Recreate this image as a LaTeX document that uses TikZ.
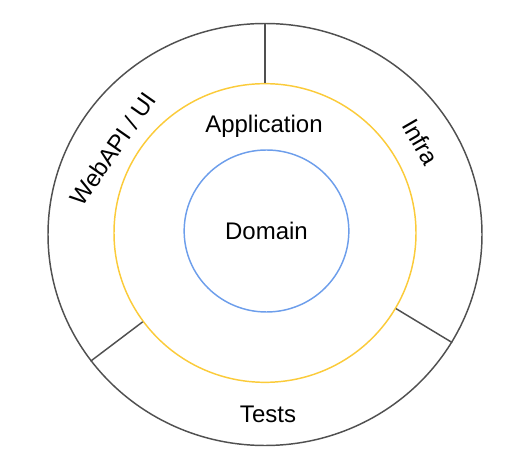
\documentclass[tikz,border=0pt]{standalone}
\usepackage{fontspec}
\setmainfont{Liberation Sans}
\usetikzlibrary{shapes.geometric}
\definecolor{ringgray}{HTML}{505050}
\definecolor{appyellow}{HTML}{FBCB3A}
\definecolor{domblue}{HTML}{6D9EEB}

\begin{document}
\begin{tikzpicture}[x=0.75pt, y=-0.75pt, line width=1.1pt,
    ring/.style={shape=ellipse, inner sep=0pt},
    lbl/.style={font=\fontsize{18}{22}\selectfont}]
    \useasboundingbox (0,0) rectangle (532,470);
    \node[ring,draw=ringgray,minimum width=325.5pt,minimum height=316.5pt] (outer) at (265,234.5) {};
    \node[ring,draw=appyellow,minimum width=226.5pt,minimum height=224pt] (app) at (265,233) {};
    \node[ring,draw=domblue,minimum width=123.5pt,minimum height=121.5pt,lbl] (dom) at (266.5,231) {Domain};
    \node[lbl] (applbl) at (264,126) {Application};
    \node[lbl] (tests) at (268,414) {Tests};
    \node[lbl,rotate=55] (web) at (113,149) {WebAPI / UI};
    \node[lbl,rotate=-60] (infra) at (421,142) {Infra};
    \draw[ringgray] (app.90) -- (outer.90);
    \draw[ringgray] (app.216) -- (outer.216);
    \draw[ringgray] (app.-30) -- (outer.-30);
\end{tikzpicture}
\end{document}
